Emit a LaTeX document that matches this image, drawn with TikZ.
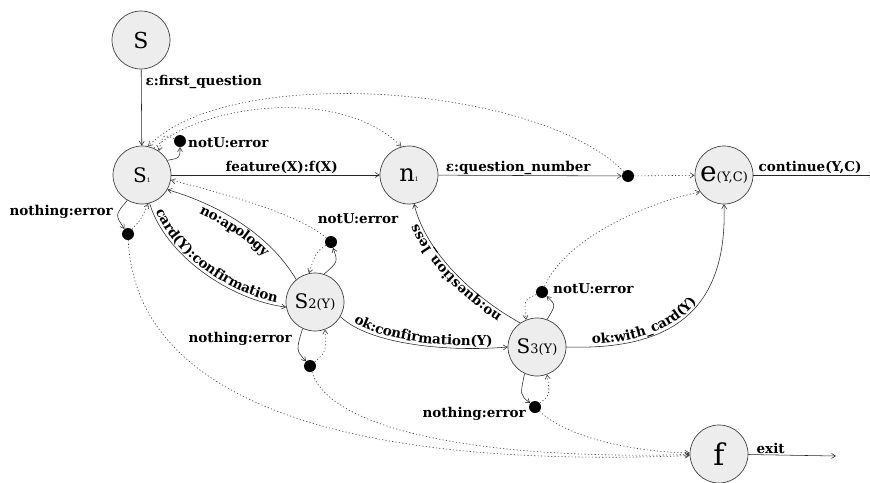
\documentclass[tikz,border=0pt]{standalone}
\usepackage{fontspec}
\setmainfont{DejaVu Serif}
\usetikzlibrary{arrows.meta,decorations.text}
\newcommand\lblfont{\fontsize{13.5}{15}\selectfont\bfseries}
\begin{document}
\begin{tikzpicture}[x=1pt,y=-1pt,
  >={Straight Barb[length=4pt,width=5pt]},
  statenode/.style={circle,draw=black!75,line width=0.7pt,fill=black!7,inner sep=0pt,minimum size=58pt},
  bdot/.style={circle,fill=black,inner sep=0pt,minimum size=12pt},
  conn/.style={->,draw=black!85,line width=0.55pt},
  dconn/.style={->,draw=black!75,line width=0.6pt,dash pattern=on 1.2pt off 2.2pt},
  lbl/.style={font=\lblfont,inner sep=1pt},
  curvtext/.style n args={3}{decorate,decoration={text along path,text={|\lblfont|#1},text align={#3},raise=#2}},
]
\useasboundingbox (0,0) rectangle (870,482);
\fill[white] (0,0) rectangle (870,482);

% states
\node[statenode] (S) at (141,40) {\fontsize{22}{22}\selectfont S};
\node[statenode] (s1) at (142,175) {\fontsize{20}{20}\selectfont S\fontsize{6}{6}\selectfont 1};
\node[statenode] (n1) at (409,175) {\fontsize{24}{24}\selectfont n\fontsize{6}{6}\selectfont 1};
\node[statenode] (e) at (724,175) {\fontsize{28}{28}\selectfont e\fontsize{13}{13}\selectfont (Y,C)};
\node[statenode] (s2) at (315,302) {\fontsize{20}{20}\selectfont S\fontsize{13}{13}\selectfont 2(Y)};
\node[statenode] (s3) at (537,347) {\fontsize{20}{20}\selectfont S\fontsize{13}{13}\selectfont 3(Y)};
\node[statenode] (f) at (719,454) {\fontsize{30}{30}\selectfont f};

% branch dots
\node[bdot] (d1n) at (180,141) {};
\node[bdot] (d1x) at (128,234) {};
\node[bdot] (d2n) at (331,242) {};
\node[bdot] (d2x) at (310,366) {};
\node[bdot] (de) at (628,176) {};
\node[bdot] (d3n) at (542,292) {};
\node[bdot] (d3x) at (535,407) {};

\coordinate (eout) at (874,175);
\coordinate (fout) at (836,456);

% straight transitions
\draw[conn] (S) -- node[lbl,anchor=west,pos=0.17,xshift=3pt] (lfq) {ε:first\_question} (s1);
\draw[conn] (s1) -- node[lbl,above,pos=0.53] (lfeat) {feature(X):f(X)} (n1);
\draw[conn] (n1) -- node[lbl,above,pos=0.435] (lqn) {ε:question\_number} (de);
\draw[dconn] (de) -- (e);
\draw[conn] (e) -- node[lbl,above,pos=0.47] (lcont) {continue(Y,C)} (eout);
\draw[conn] (f) -- node[lbl,anchor=south west,pos=0.08] (lexit) {exit} (fout);

% s1 loops
\draw[conn] (s1.30) .. controls (180,158) .. (d1n);
\draw[dconn] (d1n) .. controls (163,134) .. (s1.55);
\node[lbl,anchor=west] (l1n) at (187,143) {notU:error};
\draw[conn] (s1.240) .. controls (115,215) .. (d1x);
\draw[dconn] (d1x) .. controls (142,218) .. (s1.282);
\node[lbl,anchor=east] (l1x) at (114,212) {nothing:error};

% s2 loops
\draw[conn] (s2.72) .. controls (338,262) .. (d2n);
\draw[dconn] (d2n) .. controls (316,252) .. (s2.102);
\node[lbl] (l2n) at (358,219) {notU:error};
\draw[conn] (s2.245) .. controls (296,350) .. (d2x);
\draw[dconn] (d2x) .. controls (326,352) .. (s2.290);
\node[lbl,anchor=east] (l2x) at (293,339) {nothing:error};

% s3 loops
\draw[conn] (s3.70) .. controls (556,305) .. (d3n);
\draw[dconn] (d3n) .. controls (524,300) .. (s3.112);
\node[lbl,anchor=west] (l3n) at (552,289) {notU:error};
\draw[conn] (s3.245) .. controls (520,395) .. (d3x);
\draw[dconn] (d3x) .. controls (550,395) .. (s3.290);
\node[lbl,anchor=east] (l3x) at (527,414) {nothing:error};

% labelled curved transitions
\draw[conn] (s1.285) .. controls (165,255) and (230,300) .. (s2.190);
\path[curvtext={card(Y):confirmation}{3pt}{center}] (s1.285) .. controls (165,255) and (230,300) .. (s2.190);

\draw[conn] (s2.130) .. controls (270,235) and (220,205) .. (s1.330);
\path[curvtext={no:apology}{-12pt}{center}] (s1.330) .. controls (220,205) and (270,235) .. (s2.130);

\draw[conn] (s2.330) .. controls (370,345) and (450,352) .. (s3.180);
\path[curvtext={ok:confirmation(Y)}{3pt}{center}] (s2.330) .. controls (370,345) and (450,352) .. (s3.180);

\draw[conn] (s3.125) .. controls (470,295) and (425,250) .. (n1.280);
\path[curvtext={no:question{\_}less}{3pt}{center}] (s3.125) .. controls (470,295) and (425,250) .. (n1.280);

\draw[conn] (s3.east) .. controls (660,350) and (728,320) .. (e.south);
\path[curvtext={ok:with{\_}card(Y)}{3pt}{left indent=26pt}] (s3.east) .. controls (660,350) and (728,320) .. (e.south);

% dotted branches
\draw[dconn] (d1x) .. controls (135,390) and (320,470) .. (f.183);
\draw[dconn] (d2x) .. controls (330,430) and (480,460) .. (f.181);
\draw[dconn] (d3x) .. controls (570,440) and (640,452) .. (f.178);
\draw[dconn] (d2n) .. controls (300,215) and (230,195) .. (s1.350);
\draw[dconn] (d3n) .. controls (565,240) and (640,205) .. (e.215);
\draw[dconn] (de) .. controls (540,85) and (230,62) .. (s1.78);
\draw[dconn] (s1.66) .. controls (200,105) and (340,85) .. (n1.105);
\end{tikzpicture}
\end{document}
